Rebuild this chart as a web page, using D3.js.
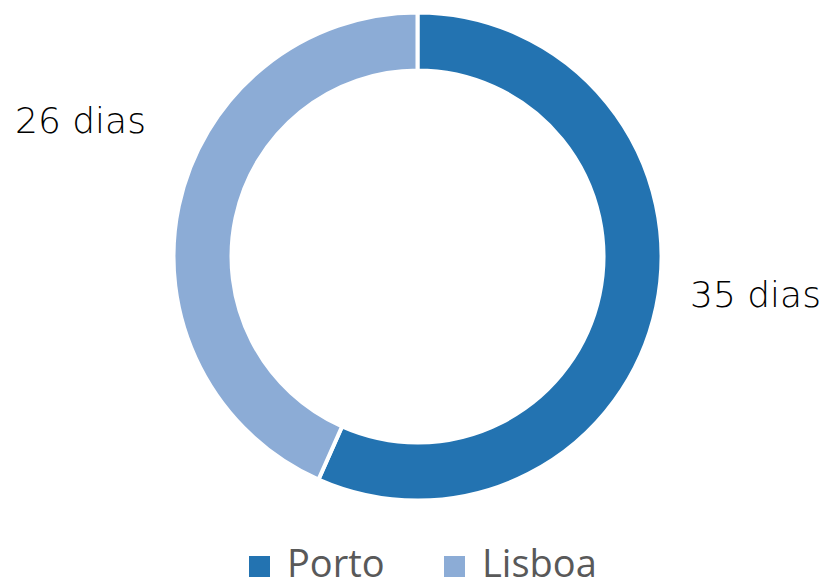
<!DOCTYPE html>
<html>
<head>
<meta charset="utf-8">
<script src="https://cdn.jsdelivr.net/npm/d3@7"></script>
<style>
    body { margin: 0; background: #fff; }
    svg { display: block; }
    .dataLabel { font-family: 'DejaVu Sans', sans-serif; font-weight: 200; font-size: 36px; fill: #000; }
    .legendText { font-family: 'Open Sans', sans-serif; font-size: 38px; fill: #595959; }
</style>
</head>
<body>
<div id="chart"></div>
<script>
'use strict';

// Data
const cities = ['Porto', 'Lisboa'];
const days = [34.5, 26.4];
const colors = ['#2373b1', '#8cacd6'];

// Config
const svgW = 831;
const svgH = 587;
const cx = 417.5;
const cy = 256.5;
const rOuter = 244;
const rInner = 186;

// Label placement (text start x, baseline y) per slice
const labelPlace = [[690, 307], [15, 133]];

const svg = d3.select('#chart')
    .append('svg')
    .attr('width', svgW)
    .attr('height', svgH);

const g = svg.append('g')
    .attr('transform', `translate(${cx}, ${cy})`);

const pie = d3.pie()
    .sort(null)
    .value(d => d.value);

const arc = d3.arc()
    .innerRadius(rInner)
    .outerRadius(rOuter);

const color = d3.scaleOrdinal()
    .domain(cities)
    .range(colors);

const rows = cities.map((c, i) => ({city: c, value: days[i]}));
const arcs = pie(rows);

// Slices
g.selectAll('.slice')
    .data(arcs)
    .join('path')
    .attr('class', 'slice')
    .attr('d', arc)
    .attr('fill', d => color(d.data.city))
    .attr('stroke', '#fff')
    .attr('stroke-width', 4)
    .attr('stroke-linejoin', 'miter');

// Data labels
const fmt = d3.format('.0f');
svg.selectAll('.dataLabel')
    .data(arcs)
    .join('text')
    .attr('class', 'dataLabel')
    .attr('x', (d, i) => labelPlace[i][0])
    .attr('y', (d, i) => labelPlace[i][1])
    .text(d => `${fmt(d.data.value)} dias`);

// Legend
const legendX = d3.scalePoint()
    .domain(cities)
    .range([249, 444]);

const legend = svg.selectAll('.legendItem')
    .data(cities)
    .join('g')
    .attr('class', 'legendItem')
    .attr('transform', d => `translate(${legendX(d)}, 556)`);

legend.append('rect')
    .attr('width', 21)
    .attr('height', 21)
    .attr('fill', d => color(d));

legend.append('text')
    .attr('class', 'legendText')
    .attr('x', 38)
    .attr('y', 21)
    .text(d => d);
</script>
</body>
</html>
